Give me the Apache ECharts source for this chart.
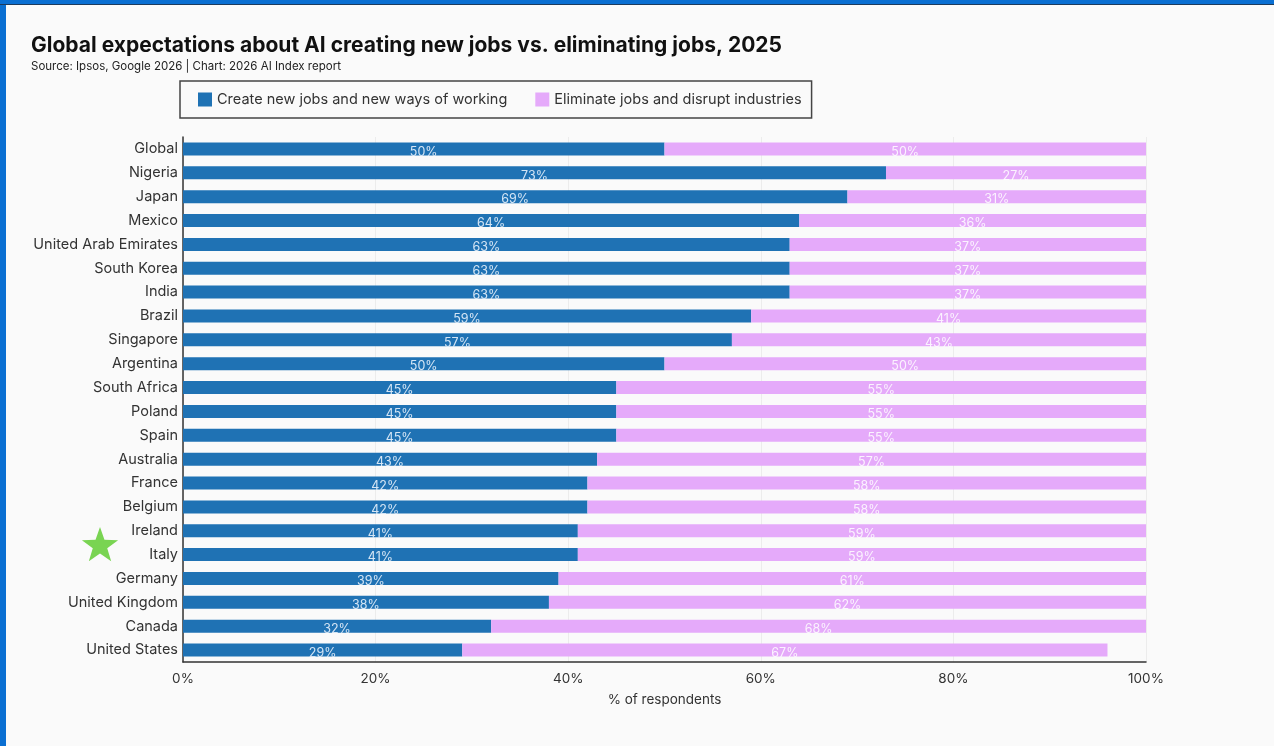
<!DOCTYPE html>
<html>
<head>
<meta charset="utf-8">
<title>AI jobs expectations</title>
<script src="https://cdn.jsdelivr.net/npm/echarts@6/dist/echarts.min.js"></script>
<style>
  html, body { margin: 0; padding: 0; background: #fafafa; }
  #chart-main { width: 1274px; height: 746px; }
</style>
</head>
<body>
<div id="chart-main"></div>
<script>
// data
const countries = ['Global', 'Nigeria', 'Japan', 'Mexico', 'United Arab Emirates', 'South Korea', 'India',
  'Brazil', 'Singapore', 'Argentina', 'South Africa', 'Poland', 'Spain', 'Australia', 'France', 'Belgium',
  'Ireland', 'Italy', 'Germany', 'United Kingdom', 'Canada', 'United States'];
const createJobs = [50, 73, 69, 64, 63, 63, 63, 59, 57, 50, 45, 45, 45, 43, 42, 42, 41, 41, 39, 38, 32, 29];
const eliminateJobs = [50, 27, 31, 36, 37, 37, 37, 41, 43, 50, 55, 55, 55, 57, 58, 58, 59, 59, 61, 62, 68, 67];
const xTicks = [0, 20, 40, 60, 80, 100];

const fontFamily = 'Inter, "Noto Sans", sans-serif';

// five-point star next to Italy/Ireland
function starPoints(cx, cy, r) {
  const pts = [];
  for (let i = 0; i < 10; i++) {
    const rad = i % 2 === 0 ? r : r * 0.4;
    const a = -Math.PI / 2 + i * Math.PI / 5;
    pts.push([cx + rad * Math.cos(a), cy + rad * Math.sin(a)]);
  }
  return pts;
}

let myChart = echarts.init(document.getElementById('chart-main'));
let option = {
  backgroundColor: '#fafafa',
  textStyle: { fontFamily: fontFamily },
  title: {
    text: 'Global expectations about AI creating new jobs vs. eliminating jobs, 2025',
    subtext: 'Source: Ipsos, Google 2026 | Chart: 2026 AI Index report',
    left: 26,
    top: 30,
    itemGap: 5,
    textStyle: { fontSize: 21, fontWeight: 'bold', color: '#111', fontFamily: fontFamily },
    subtextStyle: { fontSize: 11.5, color: '#222', fontFamily: fontFamily }
  },
  legend: {
    left: 180,
    top: 81,
    padding: [11, 10, 11, 18],
    borderColor: '#444',
    borderWidth: 1.5,
    itemWidth: 14,
    itemHeight: 14,
    itemGap: 28,
    icon: 'rect',
    textStyle: { fontSize: 14.5, color: '#333' },
    data: ['Create new jobs and new ways of working', 'Eliminate jobs and disrupt industries']
  },
  grid: { left: 183, right: 128, top: 137, bottom: 84 },
  xAxis: {
    type: 'value',
    min: 0,
    max: 100,
    interval: 20,
    name: '% of respondents',
    nameLocation: 'middle',
    nameGap: 31,
    nameTextStyle: { fontSize: 13.5, color: '#333' },
    axisLine: { show: true, lineStyle: { color: '#333', width: 1.5 } },
    axisTick: { show: false },
    axisLabel: {
      fontSize: 13.5,
      color: '#333',
      margin: 10,
      formatter: v => (xTicks.includes(v) ? v + '%' : '')
    },
    splitLine: { show: true, lineStyle: { color: '#ececec' } }
  },
  yAxis: {
    type: 'category',
    data: countries,
    inverse: true,
    axisLine: { show: true, lineStyle: { color: '#333', width: 1.5 } },
    axisTick: { show: false },
    axisLabel: { fontSize: 14.5, color: '#333', margin: 5 }
  },
  series: [
    {
      name: 'Create new jobs and new ways of working',
      type: 'bar',
      stack: 'total',
      barWidth: 13,
      data: createJobs,
      itemStyle: { color: '#1f72b4' },
      label: {
        show: true,
        position: 'inside',
        offset: [0, 3],
        fontSize: 12.5,
        color: '#d4e5f5',
        formatter: '{c}%'
      }
    },
    {
      name: 'Eliminate jobs and disrupt industries',
      type: 'bar',
      stack: 'total',
      barWidth: 13,
      data: eliminateJobs,
      itemStyle: { color: '#e5aafa' },
      label: {
        show: true,
        position: 'inside',
        offset: [0, 3],
        fontSize: 12.5,
        color: 'rgba(255,255,255,0.85)',
        formatter: '{c}%'
      }
    }
  ],
  graphic: [
    { type: 'rect', left: 0, top: 0, shape: { width: 6, height: 746 }, style: { fill: '#0a6fd2' } },
    { type: 'rect', left: 0, top: 0, shape: { width: 1274, height: 4 }, style: { fill: '#0a6fd2' } },
    { type: 'rect', left: 0, top: 4, shape: { width: 1274, height: 1 }, style: { fill: '#1d3b5c' } },
    { type: 'polygon', shape: { points: starPoints(100, 546, 19) }, style: { fill: '#79d452' } }
  ]
};
myChart.setOption(option);
</script>
</body>
</html>
